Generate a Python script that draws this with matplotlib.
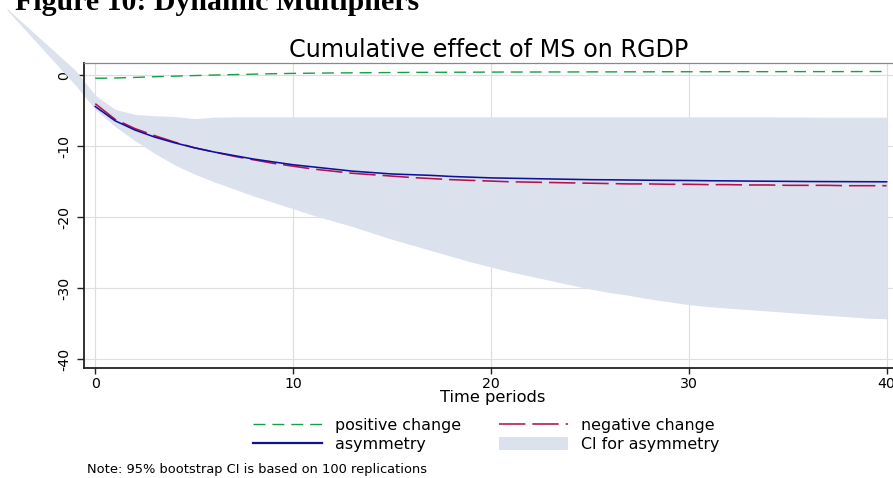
import matplotlib
matplotlib.use("Agg")
import matplotlib.pyplot as plt
from matplotlib.lines import Line2D
from matplotlib.patches import Patch

plt.rcParams['font.family'] = ['DejaVu Sans']
plt.rcParams['lines.scale_dashes'] = False

# ---------------- data ----------------
periods = list(range(41))
positive_change = [-0.42, -0.38, -0.30, -0.20, -0.12, -0.04, 0.04, 0.10, 0.16, 0.22, 0.27,
                   0.30, 0.33, 0.35, 0.37, 0.39, 0.41, 0.42, 0.43, 0.44, 0.45,
                   0.46, 0.46, 0.47, 0.47, 0.48, 0.48, 0.49, 0.49, 0.50, 0.50,
                   0.50, 0.51, 0.51, 0.51, 0.52, 0.52, 0.52, 0.52, 0.53, 0.53]
negative_change = [-4.0, -6.2, -7.5, -8.5, -9.4, -10.2, -10.8, -11.4, -11.9, -12.4, -12.8,
                   -13.2, -13.5, -13.8, -14.0, -14.2, -14.4, -14.55, -14.7, -14.8, -14.9,
                   -15.0, -15.05, -15.1, -15.15, -15.2, -15.25, -15.3, -15.3, -15.35, -15.35,
                   -15.4, -15.4, -15.45, -15.45, -15.5, -15.5, -15.5, -15.55, -15.55, -15.55]
asymmetry = [-4.4, -6.4, -7.7, -8.7, -9.5, -10.2, -10.8, -11.3, -11.8, -12.2, -12.6,
             -12.9, -13.2, -13.5, -13.7, -13.9, -14.0, -14.1, -14.25, -14.35, -14.45,
             -14.5, -14.55, -14.6, -14.65, -14.7, -14.72, -14.75, -14.78, -14.8, -14.82,
             -14.85, -14.87, -14.9, -14.92, -14.94, -14.96, -14.97, -14.98, -14.99, -15.0]
ci_periods = [-4.46, -1] + periods
ci_upper = [9.4, 0.7,
            -2.8, -4.8, -5.5, -5.7, -5.8, -6.1, -5.9, -5.85, -5.85, -5.85, -5.85,
            -5.85, -5.85, -5.85, -5.85, -5.85, -5.85, -5.85, -5.85, -5.85, -5.85,
            -5.85, -5.85, -5.85, -5.85, -5.85, -5.85, -5.85, -5.85, -5.85, -5.85,
            -5.85, -5.85, -5.85, -5.85, -5.88, -5.88, -5.9, -5.9, -5.9, -5.9]
ci_lower = [9.2, -1.4,
            -4.8, -7.2, -9.2, -11.0, -12.6, -13.9, -15.0, -16.0, -17.0, -17.9, -18.8,
            -19.7, -20.5, -21.3, -22.2, -23.1, -23.9, -24.7, -25.5, -26.3, -27.0,
            -27.7, -28.3, -28.9, -29.5, -30.1, -30.6, -31.0, -31.5, -31.9, -32.3,
            -32.6, -32.8, -33.0, -33.2, -33.4, -33.6, -33.8, -34.0, -34.2, -34.3]

x_ticks = [0, 10, 20, 30, 40]
y_ticks = [0, -10, -20, -30, -40]

# ---------------- styles ----------------
c_green = '#14a046'
c_red = '#b4124a'
c_blue = '#10109e'
c_band = '#dbe2ee'
c_grid = '#dedede'

W, H = 893, 478
fig = plt.figure(figsize=(W / 100, H / 100), dpi=100)

ax_left, ax_right, ax_top, ax_bot = 84, 904, 63.3, 368.3
ax = fig.add_axes([ax_left / W, 1 - ax_bot / H, (ax_right - ax_left) / W, (ax_bot - ax_top) / H])
ax.set_xlim(-0.57, 40.88)
ax.set_ylim(-41.27, 1.69)

ax.set_axisbelow(True)
ax.grid(True, color=c_grid, linewidth=0.85)

ax.fill_between(ci_periods, ci_lower, ci_upper, color=c_band, linewidth=0,
                clip_on=False, zorder=1)
ax.plot(periods, positive_change, color=c_green, linewidth=1.0,
        dashes=(8.6, 5.0), zorder=3)
ax.plot(periods, negative_change, color=c_red, linewidth=1.15,
        dashes=(19.0, 5.0), zorder=3)
ax.plot(periods, asymmetry, color=c_blue, linewidth=1.15, zorder=4)

ax.set_xticks(x_ticks)
ax.set_yticks(y_ticks)
ax.set_yticklabels([str(v) for v in y_ticks], rotation=90, va='center')
ax.tick_params(axis='x', length=4, width=1.0, pad=2.5, labelsize=10.2, color='#222222')
ax.tick_params(axis='y', length=5, width=1.0, pad=4, labelsize=10.2, color='#222222')

for s in ['left', 'bottom']:
    ax.spines[s].set_color('#222222')
    ax.spines[s].set_linewidth(1.3)
ax.spines['top'].set_color('#888888')
ax.spines['top'].set_linewidth(0.9)
ax.spines['right'].set_visible(False)

# titles and labels
fig.text(15 / W, 1 - 10 / H, 'Figure 10: Dynamic Multipliers', family='Liberation Serif',
         weight='bold', fontsize=21.5, ha='left', va='baseline')
fig.text(489 / W, 1 - 50 / H, 'Cumulative effect of MS on RGDP', fontsize=17.2,
         ha='center', va='center')
fig.text(492.5 / W, 1 - 397.3 / H, 'Time periods', fontsize=11.7, ha='center', va='center')
fig.text(87.3 / W, 1 - 469.3 / H, 'Note: 95% bootstrap CI is based on 100 replications',
         fontsize=9.4, ha='left', va='center')

handles = [
    Line2D([], [], color=c_green, linewidth=1.0, dashes=(8.6, 5.0)),
    Line2D([], [], color=c_blue, linewidth=1.6),
    Line2D([], [], color=c_red, linewidth=1.15, dashes=(19.0, 5.0)),
    Patch(facecolor=c_band, edgecolor='none'),
]
labels = ['positive change', 'asymmetry', 'negative change', 'CI for asymmetry']
fig.legend(handles, labels, ncol=2, loc='center', bbox_to_anchor=(486 / W, 1 - 434.7 / H),
           frameon=False, fontsize=11.45, handlelength=4.34, handletextpad=0.82,
           columnspacing=2.4, labelspacing=0.27, handleheight=0.85, borderpad=0)

fig.savefig('out.png', dpi=100)
